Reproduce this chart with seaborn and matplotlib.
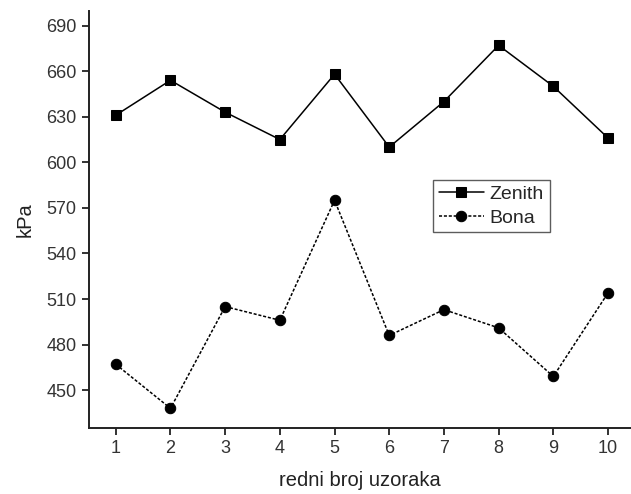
import matplotlib
matplotlib.use("Agg")
import matplotlib.pyplot as plt
import seaborn as sns
import pandas as pd

samples = [1, 2, 3, 4, 5, 6, 7, 8, 9, 10]
zenith = [631, 654, 633, 615, 658, 610, 640, 677, 650, 616]
bona = [467, 438, 505, 496, 575, 486, 503, 491, 459, 514]
yticks = [450, 480, 510, 540, 570, 600, 630, 660, 690]

sns.set_theme(style="ticks")
plt.rcParams['font.family'] = ['Liberation Sans', 'DejaVu Sans']

df = pd.DataFrame({
    "x": samples * 2,
    "kPa": zenith + bona,
    "series": ["Zenith"] * len(samples) + ["Bona"] * len(samples),
})

fig = plt.figure(figsize=(6.31, 4.94), dpi=100)
ax = fig.add_axes([0.141, 0.134, 0.859, 0.844])

sns.lineplot(data=df[df.series == "Zenith"], x="x", y="kPa", ax=ax, color="black",
             marker="s", markersize=6.5, linewidth=1.1, linestyle="-",
             markeredgecolor="black", label="Zenith")
sns.lineplot(data=df[df.series == "Bona"], x="x", y="kPa", ax=ax, color="black",
             marker="o", markersize=7.5, linewidth=1.1, linestyle=(0, (2, 1.2)),
             markeredgecolor="black", label="Bona")

ax.set_xlim(0.51, 10.42)
ax.set_ylim(425.2, 699.7)
ax.set_xticks(samples)
ax.set_yticks(yticks)
ax.tick_params(axis="both", labelsize=13, length=5, width=1.3, color="#222222",
               labelcolor="#333333", direction="out", pad=4)
ax.set_xlabel("redni broj uzoraka", fontsize=14.5, color="#222222", labelpad=10)
ax.set_ylabel("kPa", fontsize=14.5, color="#222222", labelpad=8)
for s in ["top", "right"]:
    ax.spines[s].set_visible(False)
for s in ["left", "bottom"]:
    ax.spines[s].set_linewidth(1.4)
    ax.spines[s].set_color("#222222")

leg = ax.legend(loc="upper left", bbox_to_anchor=(0.635, 0.595), fontsize=14,
                frameon=True, fancybox=False, handlelength=2.3, handletextpad=0.3,
                borderpad=0.3, labelspacing=0.3, borderaxespad=0)
leg.get_frame().set_edgecolor("#333333")
leg.get_frame().set_linewidth(1.0)

fig.savefig("out.png", dpi=100)
